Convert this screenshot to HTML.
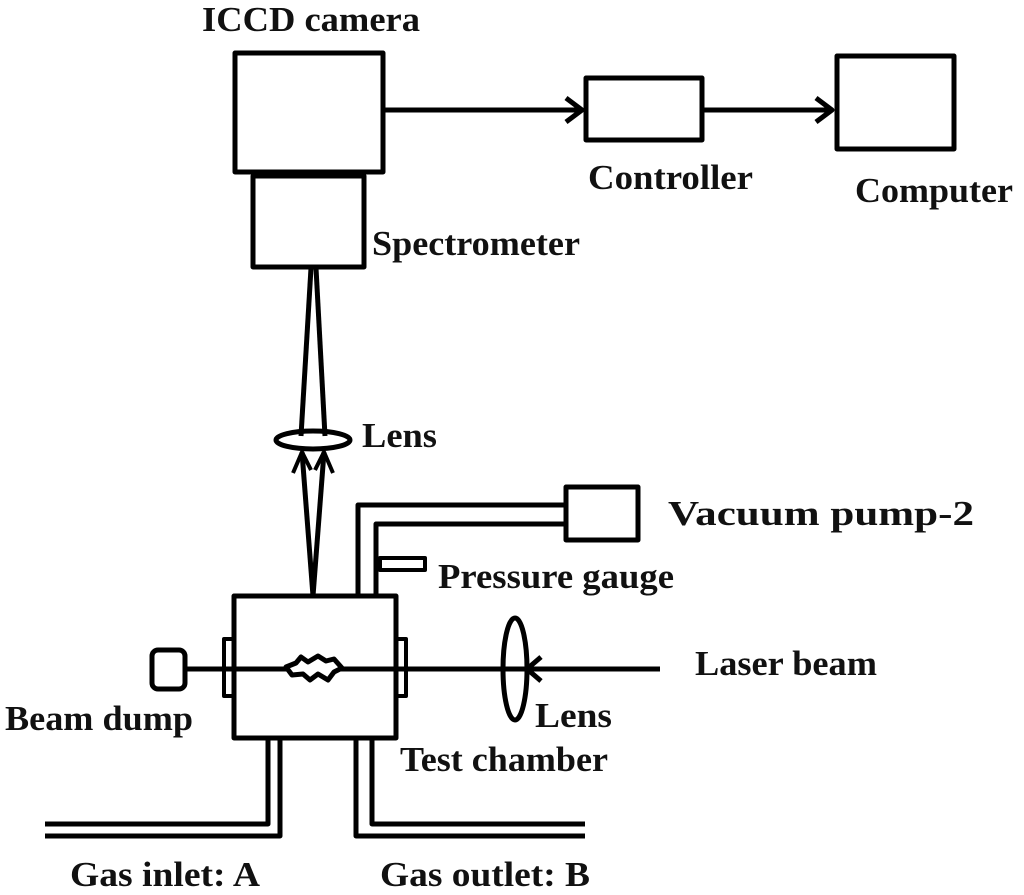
<!DOCTYPE html>
<html><head><style>
html,body{margin:0;padding:0;background:#fff;width:1024px;height:895px;overflow:hidden}
svg{display:block}
text{font-family:"Liberation Serif",serif;font-weight:bold;font-size:35px;fill:#111}
</style></head><body>
<svg width="1024" height="895" viewBox="0 0 1024 895" xmlns="http://www.w3.org/2000/svg">
<g fill="none" stroke="#000" stroke-width="5" stroke-linejoin="round">
<rect x="235" y="53" width="148" height="119"/>
<rect x="253" y="176" width="111" height="91"/>
<rect x="586" y="78" width="116" height="62"/>
<rect x="837" y="56" width="117" height="93"/>
<line x1="384" y1="110" x2="580" y2="110"/>
<polyline points="566,98 582,110 566,122"/>
<line x1="703" y1="110" x2="830" y2="110"/>
<polyline points="816,98 832,110 816,122"/>
<line x1="313" y1="596" x2="302" y2="452"/>
<line x1="313" y1="596" x2="324" y2="452"/>
<polyline points="293,473 302,452 311,470" stroke-width="4"/>
<polyline points="315,470 324,452 333,473" stroke-width="4"/>
<line x1="301" y1="436" x2="311" y2="268"/>
<line x1="325" y1="436" x2="316" y2="268"/>
<ellipse cx="313" cy="440" rx="37" ry="9"/>
<rect x="234" y="596" width="162" height="142"/>
<rect x="224" y="639" width="10" height="57" stroke-width="4"/>
<rect x="396" y="639" width="10" height="57" stroke-width="4"/>
<rect x="152" y="650" width="33" height="39" rx="6"/>
<line x1="185" y1="669" x2="288" y2="669"/>
<line x1="340" y1="669" x2="660" y2="669"/>
<polygon points="286,667 296,663 301,657 308,662 318,656 326,661 334,659 342,668 334,672 328,680 318,674 310,680 303,674 292,675" stroke-width="5"/>
<polyline points="541,657 527,669 541,681"/>
<ellipse cx="515" cy="669" rx="12" ry="51"/>
<polyline points="358,596 358,505 566,505"/>
<polyline points="376,596 376,524 566,524"/>
<rect x="380" y="558" width="45" height="12" stroke-width="4"/>
<rect x="566" y="487" width="72" height="53"/>
<polyline points="268,738 268,824 45,824"/>
<polyline points="280,738 280,836 45,836"/>
<polyline points="372,738 372,824 585,824"/>
<polyline points="356,738 356,836 585,836"/>
</g>
<text x="202" y="31" textLength="218" lengthAdjust="spacingAndGlyphs">ICCD camera</text>
<text x="588" y="189" textLength="165" lengthAdjust="spacingAndGlyphs">Controller</text>
<text x="855" y="202" textLength="158" lengthAdjust="spacingAndGlyphs">Computer</text>
<text x="372" y="255" textLength="208" lengthAdjust="spacingAndGlyphs">Spectrometer</text>
<text x="362" y="447" textLength="75" lengthAdjust="spacingAndGlyphs">Lens</text>
<text x="668" y="525" textLength="306" lengthAdjust="spacingAndGlyphs">Vacuum pump-2</text>
<text x="438" y="588" textLength="236" lengthAdjust="spacingAndGlyphs">Pressure gauge</text>
<text x="695" y="675" textLength="182" lengthAdjust="spacingAndGlyphs">Laser beam</text>
<text x="5" y="730" textLength="188" lengthAdjust="spacingAndGlyphs">Beam dump</text>
<text x="535" y="727" textLength="77" lengthAdjust="spacingAndGlyphs">Lens</text>
<text x="400" y="771" textLength="208" lengthAdjust="spacingAndGlyphs">Test chamber</text>
<text x="70" y="886" textLength="190" lengthAdjust="spacingAndGlyphs">Gas inlet: A</text>
<text x="380" y="886" textLength="210" lengthAdjust="spacingAndGlyphs">Gas outlet: B</text>
</svg>
</body></html>
